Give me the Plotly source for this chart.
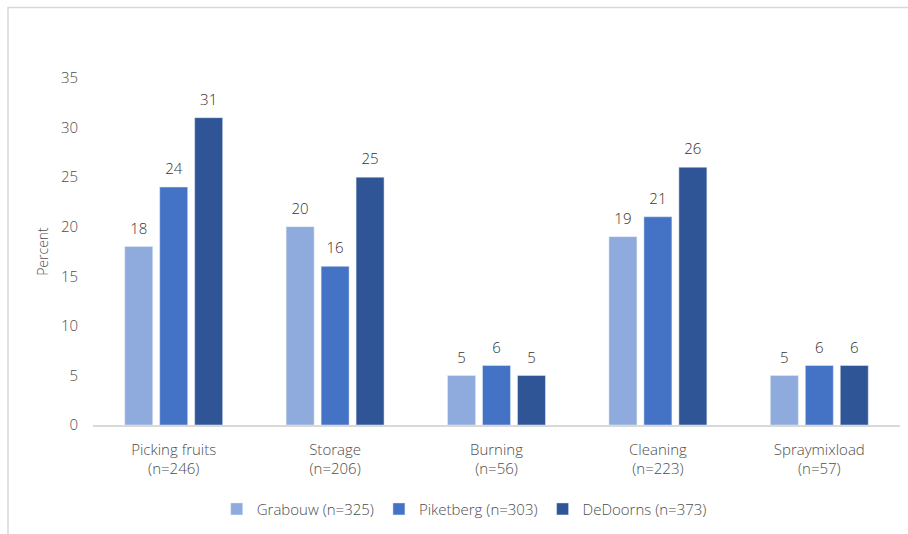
import plotly.graph_objects as go

categories = ["Picking fruits<br>(n=246)", "Storage<br>(n=206)", "Burning<br>(n=56)",
              "Cleaning<br>(n=223)", "Spraymixload<br>(n=57)"]
series_names = ["Grabouw (n=325)", "Piketberg (n=303)", "DeDoorns (n=373)"]
grabouw = [18, 20, 5, 19, 5]
piketberg = [24, 16, 6, 21, 6]
dedoorns = [31, 25, 5, 26, 6]
colors = ["#8FAADC", "#4472C4", "#2F5597"]
y_ticks = [0, 5, 10, 15, 20, 25, 30, 35]

font_family = "Open Sans, Noto Sans, sans-serif"
text_color = "#4D4D4D"
label_color = "#333333"
BARGAP = 0.35

fig = go.Figure()
for i, (name, vals, col) in enumerate(zip(series_names, [grabouw, piketberg, dedoorns], colors)):
    fig.add_trace(go.Bar(
        x=categories, y=vals, name=name, marker_color=col,
        offsetgroup=str(i), alignmentgroup="a",
    ))
for i, vals in enumerate([grabouw, piketberg, dedoorns]):
    fig.add_trace(go.Scatter(
        x=categories, y=vals, mode="markers+text", showlegend=False, hoverinfo="skip",
        text=[str(v) for v in vals], textposition="top center",
        marker=dict(size=13, opacity=0),
        textfont=dict(size=15, color=label_color, family=font_family, weight=300),
        offsetgroup=str(i), alignmentgroup="a", cliponaxis=False,
    ))

W, H = 908, 534
L, R, T, B = 93, 8, 78, 106
pw, ph = W - L - R, H - T - B

fig.update_layout(
    width=W, height=H,
    margin=dict(l=L, r=R, t=T, b=B),
    paper_bgcolor="white", plot_bgcolor="white",
    barmode="group", bargap=BARGAP, bargroupgap=0.2,
    scattermode="group", scattergap=BARGAP,
    font=dict(family=font_family, size=15, color=text_color, weight=300),
    showlegend=True,
    legend=dict(orientation="h", x=0.46, xanchor="center", y=-0.195, yanchor="top",
                font=dict(size=15, color=text_color, weight=300), itemwidth=30,
                traceorder="normal"),
    xaxis=dict(showline=True, linecolor="#D9D9D9", linewidth=1.5, showgrid=False,
               ticks="", ticklabelstandoff=10,
               tickfont=dict(size=15, color=text_color, weight=300)),
    yaxis=dict(range=[0, 35], tickvals=y_ticks, showgrid=False, zeroline=False,
               showline=False, ticks="", ticklabelstandoff=14,
               tickfont=dict(size=15, color=text_color, weight=300),
               title=dict(text="Percent", font=dict(size=14, color=text_color, weight=300),
                          standoff=8)),
    shapes=[dict(type="rect", xref="paper", yref="paper",
                 x0=(8 - L) / pw, x1=(W + 10 - L) / pw,
                 y0=-(H + 10 - (T + ph)) / ph, y1=1 + (T - 7) / ph,
                 line=dict(color="#D9D9D9", width=1.5), fillcolor="rgba(0,0,0,0)", layer="below")],
)

fig.write_html("out.html")
